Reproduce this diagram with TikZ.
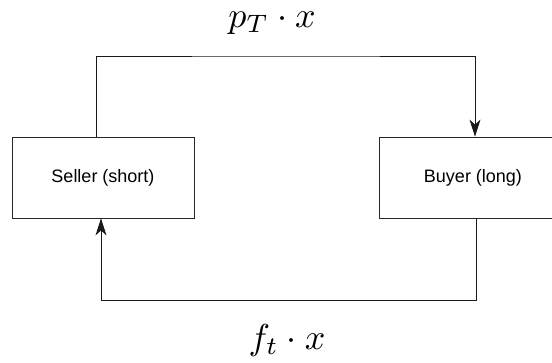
\documentclass[tikz,border=0pt]{standalone}
\usepackage{fontspec}
\setsansfont{Liberation Sans}
\usetikzlibrary{arrows.meta}

\tikzset{
  party/.style={draw=black!85, line width=0.8pt, minimum width=#1, minimum height=81pt,
    inner sep=0pt, font=\sffamily\fontsize{18}{21}\selectfont},
  flow/.style={draw=black!90, line width=0.8pt, -{Stealth[length=17pt,width=11pt,inset=5pt]}},
  amount/.style={scale=3.6, transform shape, inner sep=0pt}
}

\begin{document}
\begin{tikzpicture}[x=1pt,y=1pt]

\useasboundingbox (0,0) rectangle (552,362);
\clip (0,0) rectangle (552,362);

% The two parties
\node[party=182pt] (seller) at (103,184.5) {Seller (short)};
\node[party=188pt] (buyer) at (473,184.5) {Buyer (long)};

% The corners of the rails
\coordinate (top) at (286,306);
\coordinate (bot) at (286,61.5);

% Price paid
\draw[flow] ([xshift=-6.5pt]seller.north) |- (top) -| ([xshift=2pt]buyer.north);
\node[amount] (price) at (272,339) {$p_T \cdot x$};

% Forward paid back
\draw[flow] ([xshift=3pt]buyer.south) |- (bot) -| ([xshift=-2pt]seller.south);
\node[amount] (fwd) at (287,22) {$f_t \cdot x$};

\end{tikzpicture}
\end{document}
